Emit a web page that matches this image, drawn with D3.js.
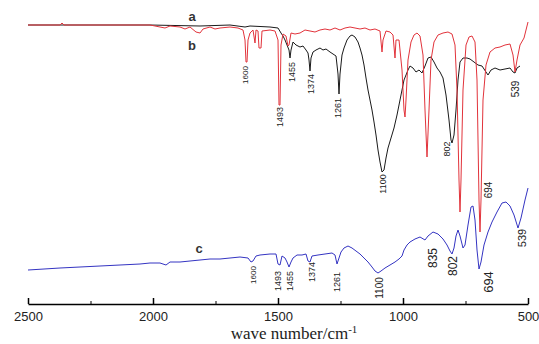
<!DOCTYPE html>
<html lang="en">
<head>
<meta charset="utf-8">
<script src="https://cdn.jsdelivr.net/npm/d3@7"></script>
<style>
body { margin: 0; background: #fff; }
.tick text { font-family: "Liberation Sans", Arial, sans-serif; }
</style>
</head>
<body>
<script>

var width = 539;
var height = 344;

// spectrum a (red): [wavenumber, transmittance a.u.]
var spectrumA = [
  [2500,279],[2372,279],[2364,281],[2356,279],[2012,279],[1992,278],[1972,277],[1952,276],
  [1932,278],[1892,277],[1872,275],[1852,277],[1828,272],[1812,271],[1800,275],[1772,277],
  [1752,275],[1732,276],[1692,277],[1660,276],[1640,274],[1632,264],[1628,242],[1624,242],
  [1620,264],[1612,271],[1600,274],[1592,261],[1588,274],[1580,273],[1576,256],[1568,256],
  [1564,273],[1532,274],[1512,273],[1500,264],[1496,199],[1492,199],[1488,259],[1480,270],
  [1468,268],[1460,258],[1456,259],[1448,271],[1432,270],[1412,271],[1392,274],[1372,273],
  [1352,272],[1332,274],[1312,275],[1292,274],[1272,276],[1252,274],[1232,276],[1212,277],
  [1192,276],[1172,275],[1152,276],[1132,274],[1112,275],[1092,273],[1084,252],[1080,264],
  [1068,273],[1052,272],[1040,269],[1032,246],[1028,264],[1016,264],[1004,234],[996,194],
  [992,187],[988,204],[980,244],[968,262],[956,269],[944,271],[932,268],[920,249],[912,194],
  [904,147],[896,194],[888,244],[876,262],[860,269],[840,271],[820,272],[804,270],[792,259],
  [784,214],[776,124],[772,92],[768,124],[760,214],[748,259],[736,267],[724,268],[712,262],
  [704,224],[696,104],[692,72],[688,104],[680,204],[668,239],[652,252],[632,256],[612,257],
  [592,259],[572,260],[560,249],[552,232],[544,244],[532,259],[516,266],[508,274],[504,278],
  [500,282]
];

// spectrum b (black)
var spectrumB = [
  [2500,279],[2012,279],[1812,278],[1692,279],[1632,277],[1612,278],[1532,277],[1500,276],
  [1488,271],[1480,268],[1472,264],[1464,259],[1456,254],[1452,246],[1448,254],[1440,262],
  [1428,259],[1412,257],[1400,258],[1388,254],[1380,251],[1376,244],[1372,233],[1368,246],
  [1360,252],[1348,254],[1332,256],[1320,254],[1308,255],[1292,252],[1280,250],[1268,248],
  [1260,230],[1256,210],[1252,230],[1244,249],[1236,256],[1224,264],[1212,268],[1204,269],
  [1192,267],[1180,262],[1172,256],[1164,249],[1156,239],[1148,226],[1140,214],[1132,204],
  [1124,194],[1116,182],[1108,169],[1100,154],[1092,142],[1084,132],[1076,134],[1068,146],
  [1060,156],[1048,166],[1036,176],[1024,189],[1012,204],[1004,214],[996,224],[988,229],
  [980,234],[972,238],[960,236],[948,232],[936,234],[924,231],[912,238],[900,246],[888,247],
  [876,242],[864,236],[852,232],[840,226],[828,209],[816,184],[808,164],[804,161],[796,169],
  [788,194],[780,224],[772,242],[760,246],[744,246],[732,245],[716,242],[700,239],[684,238],
  [668,232],[660,229],[648,234],[632,236],[612,234],[592,235],[572,236],[560,232],[552,231],
  [544,236],[532,238]
];

// spectrum c (blue)
var spectrumC = [
  [2500,34],[2372,36],[2212,38],[2052,40],[2012,41],[1972,41],[1948,39],[1932,42],[1892,42],
  [1852,43],[1812,44],[1772,45],[1732,45],[1692,46],[1652,47],[1620,46],[1608,42],[1600,43],
  [1588,48],[1572,49],[1532,50],[1508,50],[1500,40],[1492,39],[1484,48],[1472,46],[1464,42],
  [1456,37],[1448,42],[1440,46],[1424,49],[1404,49],[1388,50],[1380,43],[1372,42],[1364,48],
  [1340,49],[1312,50],[1284,51],[1272,49],[1264,40],[1256,46],[1248,52],[1236,56],[1220,58],
  [1204,56],[1188,53],[1172,50],[1156,46],[1140,42],[1124,37],[1112,33],[1100,31],[1088,33],
  [1072,36],[1052,39],[1032,42],[1016,45],[1004,48],[996,54],[984,59],[972,62],[952,65],
  [932,67],[912,64],[900,68],[880,72],[860,70],[840,65],[824,59],[812,53],[804,50],[796,56],
  [788,68],[780,74],[772,68],[760,56],[752,59],[740,79],[728,97],[720,98],[712,84],[704,54],
  [696,35],[688,42],[676,59],[660,72],[644,82],[624,92],[604,101],[588,102],[572,98],[556,89],
  [540,76],[528,86],[512,104],[500,116]
];

// peak labels: text, wavenumber, level, font size
var peaksTop = [
  ["1600",1632,229,8],["1493",1492,187,9],["1455",1444,232,9],["1374",1368,220,9],
  ["1261",1260,196,9],["1100",1080,120,9],["802",824,155,9],["694",660,114,10],["539",552,215,10]
];
var peaksBottom = [
  ["1600",1600,29,8],["1493",1500,23,9],["1455",1452,23,9],["1374",1364,32,9],
  ["1261",1264,22,9],["1100",1096,16,10],["835",880,46,12],["802",800,38,12],
  ["694",660,22,13],["539",524,66,11]
];

var curveLabels = [["a",1844,288],["b",1844,259],["c",1816,56]];

var majorTicks = [2500, 2000, 1500, 1000, 500];
var minorTicks = [2250, 1750, 1250, 750];

var x = d3.scaleLinear().domain([2500, 500]).range([28, 528]);
var y = d3.scaleLinear().domain([0, 300]).range([304, 4]);

var svg = d3.select("body").append("svg")
  .attr("width", width)
  .attr("height", height);

var line = d3.line()
  .x(function(d) { return x(d[0]); })
  .y(function(d) { return y(d[1]); });

svg.append("path").datum(spectrumB)
  .attr("d", line).attr("fill", "none")
  .attr("stroke", "#1a1a1a").attr("stroke-width", 1);

svg.append("path").datum(spectrumA)
  .attr("d", line).attr("fill", "none")
  .attr("stroke", "#e2333b").attr("stroke-width", 1);

svg.append("path").datum(spectrumC)
  .attr("d", line).attr("fill", "none")
  .attr("stroke", "#3434c2").attr("stroke-width", 1);

// peak labels, rotated
function drawPeaks(list) {
  svg.selectAll(null).data(list).enter().append("text")
    .attr("transform", function(d) { return "translate(" + x(d[1]) + "," + y(d[2]) + ") rotate(-90)"; })
    .attr("text-anchor", "middle")
    .attr("dy", "0.35em")
    .style("font-family", "'Liberation Sans', Arial, sans-serif")
    .style("font-size", function(d) { return d[3] + "px"; })
    .style("fill", "#222")
    .text(function(d) { return d[0]; });
}
drawPeaks(peaksTop);
drawPeaks(peaksBottom);

svg.selectAll(null).data(curveLabels).enter().append("text")
  .attr("x", function(d) { return x(d[1]); })
  .attr("y", function(d) { return y(d[2]); })
  .attr("text-anchor", "middle")
  .attr("dy", "0.35em")
  .style("font-family", "'Liberation Sans', Arial, sans-serif")
  .style("font-size", "13px")
  .style("font-weight", "bold")
  .style("fill", "#333")
  .text(function(d) { return d[0]; });

// x axis
var axis = svg.append("g")
  .attr("transform", "translate(0,304)")
  .call(d3.axisBottom(x).tickValues(majorTicks).tickSizeInner(-6).tickSizeOuter(0).tickPadding(8)
    .tickFormat(d3.format("d")));
axis.select(".domain").attr("stroke-width", 1.5);
axis.selectAll(".tick line").attr("stroke-width", 1.5);
axis.selectAll(".tick text").style("font-size", "13px").style("fill", "#222");

svg.append("g")
  .attr("transform", "translate(0,304)")
  .call(d3.axisBottom(x).tickValues(minorTicks).tickSizeInner(-3).tickSizeOuter(0).tickFormat(""))
  .select(".domain").remove();

var title = svg.append("text")
  .attr("x", 294)
  .attr("y", 339)
  .attr("text-anchor", "middle")
  .style("font-family", "'Liberation Serif', 'Times New Roman', serif")
  .style("font-size", "17px")
  .style("fill", "#222");
title.append("tspan").text("wave number/cm");
title.append("tspan").attr("dy", -6).style("font-size", "11px").text("-1");

</script>
</body>
</html>
